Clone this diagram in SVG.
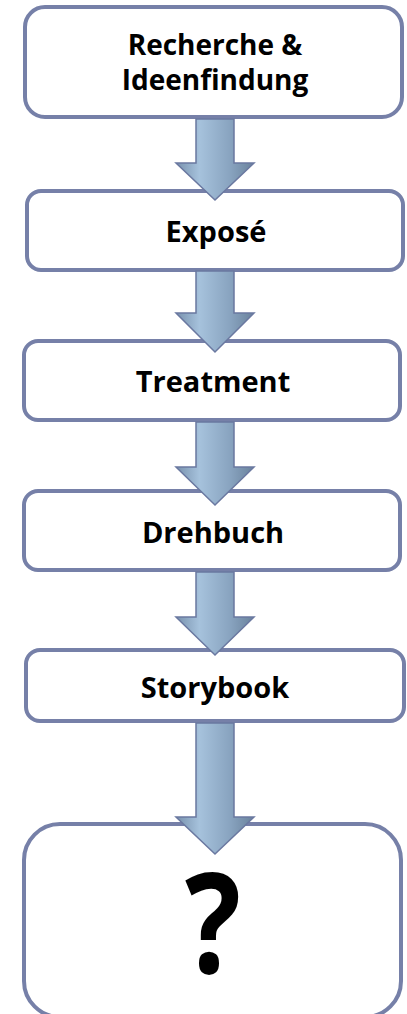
<svg xmlns="http://www.w3.org/2000/svg" width="407" height="1014" viewBox="0 0 407 1014">
  <style>
    .box { fill: #ffffff; stroke: #7680a8; stroke-width: 4; }
    .lbl { font-family: "Open Sans", "Noto Sans", sans-serif; font-weight: bold; font-size: 29px; fill: #000000; text-anchor: middle; }
    .lbl2 { font-family: "Open Sans", "Noto Sans", sans-serif; font-weight: bold; font-size: 28px; fill: #000000; text-anchor: middle; }
    .q { font-family: "Open Sans", "Noto Sans", sans-serif; font-weight: bold; font-size: 140px; fill: #000000; }
    .arrow { fill: url(#ag); stroke: #6a78a0; stroke-width: 1.5; stroke-linejoin: miter; }
  </style>
  <defs>
    <linearGradient id="ag" x1="0" y1="0" x2="1" y2="0">
      <stop offset="0" stop-color="#7891ad"/>
      <stop offset="0.3" stop-color="#a6c2dc"/>
      <stop offset="0.7" stop-color="#88a3bf"/>
      <stop offset="1" stop-color="#6a829c"/>
    </linearGradient>
  </defs>

  <g id="node-recherche">
    <rect class="box" x="25" y="7" width="377" height="110" rx="20"/>
    <text class="lbl2" x="215" y="55">Recherche &amp;</text>
    <text class="lbl2" x="215" y="90">Ideenfindung</text>
  </g>
  <g id="node-expose">
    <rect class="box" x="27" y="191" width="376" height="79" rx="14"/>
    <text class="lbl" x="216" y="242">Exposé</text>
  </g>
  <g id="node-treatment">
    <rect class="box" x="24" y="341" width="376" height="79" rx="14"/>
    <text class="lbl" x="213" y="392">Treatment</text>
  </g>
  <g id="node-drehbuch">
    <rect class="box" x="24" y="491" width="376" height="79" rx="14"/>
    <text class="lbl" x="213" y="543">Drehbuch</text>
  </g>
  <g id="node-storybook">
    <rect class="box" x="26" y="650" width="378" height="71" rx="14"/>
    <text class="lbl" x="215" y="698">Storybook</text>
  </g>
  <g id="node-unknown">
    <rect class="box" x="24" y="824" width="377" height="193" rx="36"/>
    <text class="q" x="185" y="973" textLength="56" lengthAdjust="spacingAndGlyphs">?</text>
  </g>

  <g id="connectors">
    <polygon class="arrow" points="196,119 234,119 234,163 254,163 215,200 176,163 196,163"/>
    <polygon class="arrow" points="196,271 234,271 234,313 254,313 215,352 176,313 196,313"/>
    <polygon class="arrow" points="196,422 234,422 234,467 254,467 215,505 176,467 196,467"/>
    <polygon class="arrow" points="196,572 234,572 234,617 254,617 215,655 176,617 196,617"/>
    <polygon class="arrow" points="196,723 234,723 234,817 254,817 215,854 176,817 196,817"/>
  </g>
</svg>
